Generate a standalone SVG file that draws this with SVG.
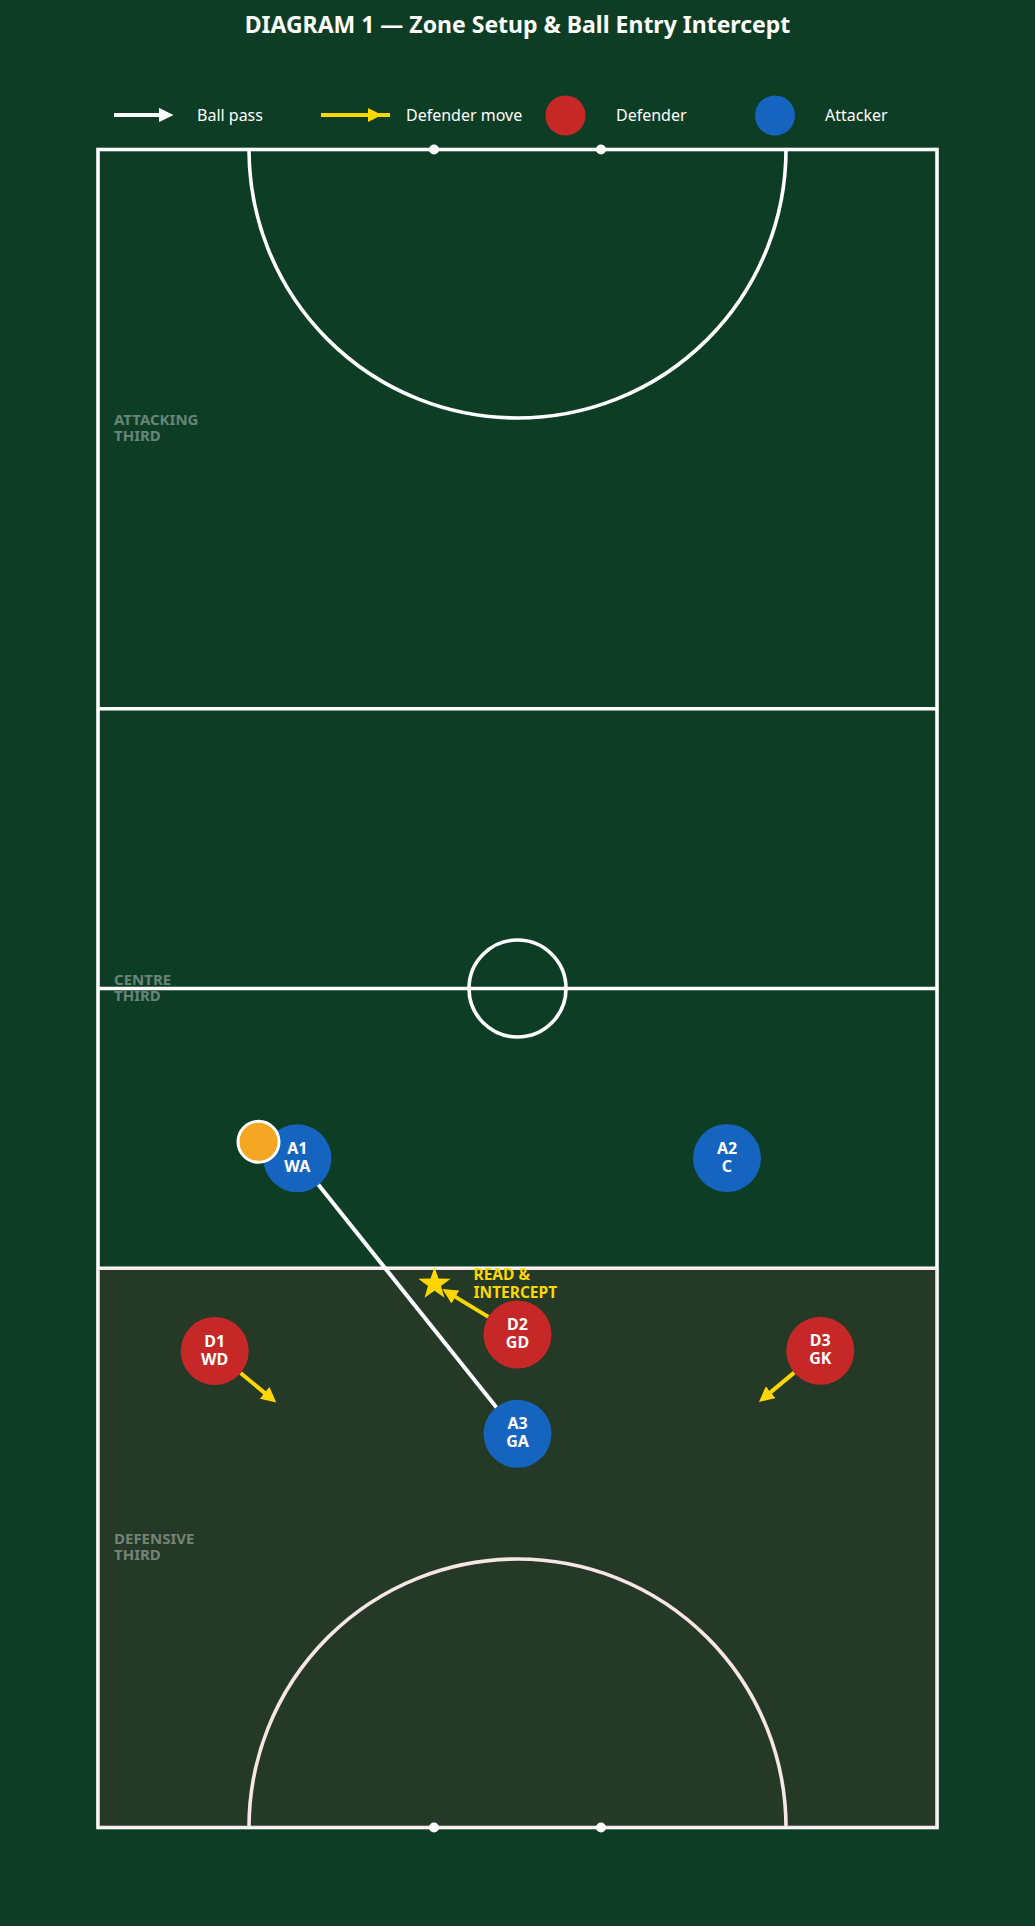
<svg xmlns="http://www.w3.org/2000/svg" width="1035" height="1926" viewBox="0 0 1035 1926">
<defs>
<marker id="ahW" viewBox="0 0 10 10" refX="7" refY="5" markerWidth="3.6" markerHeight="3.6" orient="auto"><path d="M0,0 L10,5 L0,10 z" fill="#ffffff"/></marker>
<marker id="ahY" viewBox="0 0 10 10" refX="7" refY="5" markerWidth="3.8" markerHeight="3.8" orient="auto"><path d="M0,0 L10,5 L0,10 z" fill="#ffd600"/></marker>
<style>
.court{fill:none;stroke:#ffffff;stroke-width:3.6}
.dot{fill:#ffffff}
.zone{font-family:"Noto Sans","DejaVu Sans",sans-serif;font-size:15px;font-weight:700;fill:#ffffff;fill-opacity:0.38}
.title{font-family:"Noto Sans","DejaVu Sans",sans-serif;font-size:23px;font-weight:700;fill:#ffffff;text-anchor:middle}
.leg{font-family:"Noto Sans","DejaVu Sans",sans-serif;font-size:16px;fill:#ffffff}
.lbl{font-family:"Noto Sans","DejaVu Sans",sans-serif;font-size:16px;font-weight:700;fill:#ffffff;text-anchor:middle}
.note{font-family:"Noto Sans","DejaVu Sans",sans-serif;font-size:15.5px;font-weight:700;fill:#ffd600}
.def{fill:#c62828}
.att{fill:#1565c0}
.pass{stroke:#ffffff;stroke-width:4;fill:none}
.move{stroke:#ffd600;stroke-width:4;fill:none;marker-end:url(#ahY)}
</style>
</defs>
<rect x="0" y="0" width="1035" height="1926" fill="#0e3d26"/>
<text class="title" x="517.5" y="33">DIAGRAM 1 — Zone Setup &amp; Ball Entry Intercept</text>
<g id="legend">
<line x1="114" y1="115" x2="169" y2="115" stroke="#ffffff" stroke-width="4" marker-end="url(#ahW)"/>
<text class="leg" x="197" y="120.5">Ball pass</text>
<line x1="321" y1="115" x2="390" y2="115" stroke="#ffd600" stroke-width="4"/>
<path d="M368,108 L382,115 L368,122 z" fill="#ffd600"/>
<text class="leg" x="406" y="120.5">Defender move</text>
<circle cx="565.5" cy="115.5" r="20" class="def"/>
<text class="leg" x="616" y="120.5">Defender</text>
<circle cx="775" cy="115.5" r="20" class="att"/>
<text class="leg" x="825" y="120.5">Attacker</text>
</g>
<g id="court">
<rect class="court" x="98" y="149.5" width="839" height="1678"/>
<line class="court" x1="98" y1="708.8" x2="937" y2="708.8"/>
<line class="court" x1="98" y1="988.5" x2="937" y2="988.5"/>
<line class="court" x1="98" y1="1268.2" x2="937" y2="1268.2"/>
<path class="court" d="M249,149.5 A268.5,268.5 0 0 0 786,149.5"/>
<circle class="court" cx="517.5" cy="988.5" r="48.5"/>
<path class="court" d="M249,1827.5 A268.5,268.5 0 0 1 786,1827.5"/>
<rect x="98" y="1268.2" width="839" height="559.3" fill="#c62828" fill-opacity="0.12"/>
<circle class="dot" cx="434" cy="149.5" r="5"/>
<circle class="dot" cx="601" cy="149.5" r="5"/>
<circle class="dot" cx="434" cy="1827.5" r="5"/>
<circle class="dot" cx="601" cy="1827.5" r="5"/>
<text class="zone" x="114" y="425">ATTACKING<tspan x="114" dy="16">THIRD</tspan></text>
<text class="zone" x="114" y="985">CENTRE<tspan x="114" dy="16">THIRD</tspan></text>
<text class="zone" x="114" y="1544">DEFENSIVE<tspan x="114" dy="16">THIRD</tspan></text>
</g>
<g id="connectors">
<line class="pass" x1="297.3" y1="1158.3" x2="517.5" y2="1433.8"/>
<line class="move" x1="240.6" y1="1373" x2="272.8" y2="1399.6"/>
<line class="move" x1="488.4" y1="1316.9" x2="446.3" y2="1291.4"/>
<line class="move" x1="794.2" y1="1372.6" x2="762.5" y2="1399"/>
</g>
<g id="intercept">
<path d="M434.5,1267 L438.5,1278.5 L450.7,1278.7 L441,1286.1 L444.5,1297.8 L434.5,1290.8 L424.5,1297.8 L428,1286.1 L418.3,1278.7 L430.5,1278.5 z" fill="#ffd600"/>
<text class="note" x="473.5" y="1279.5">READ &amp;<tspan x="473.5" dy="18">INTERCEPT</tspan></text>
</g>
<g id="A1"><circle cx="297.3" cy="1158.3" r="34" class="att"/><text class="lbl" x="297.3" y="1153.8">A1<tspan x="297.3" dy="18">WA</tspan></text></g>
<g id="ball"><circle cx="258.5" cy="1141.8" r="20.5" fill="#f5a623" stroke="#ffffff" stroke-width="3"/></g>
<g id="A2"><circle cx="727" cy="1158" r="34" class="att"/><text class="lbl" x="727" y="1153.5">A2<tspan x="727" dy="18">C</tspan></text></g>
<g id="A3"><circle cx="517.5" cy="1433.8" r="34" class="att"/><text class="lbl" x="517.5" y="1429.3">A3<tspan x="517.5" dy="18">GA</tspan></text></g>
<g id="D1"><circle cx="214.7" cy="1351" r="34" class="def"/><text class="lbl" x="214.7" y="1346.5">D1<tspan x="214.7" dy="18">WD</tspan></text></g>
<g id="D2"><circle cx="517.5" cy="1334.5" r="34" class="def"/><text class="lbl" x="517.5" y="1330">D2<tspan x="517.5" dy="18">GD</tspan></text></g>
<g id="D3"><circle cx="820.3" cy="1350.8" r="34" class="def"/><text class="lbl" x="820.3" y="1346.3">D3<tspan x="820.3" dy="18">GK</tspan></text></g>
</svg>
